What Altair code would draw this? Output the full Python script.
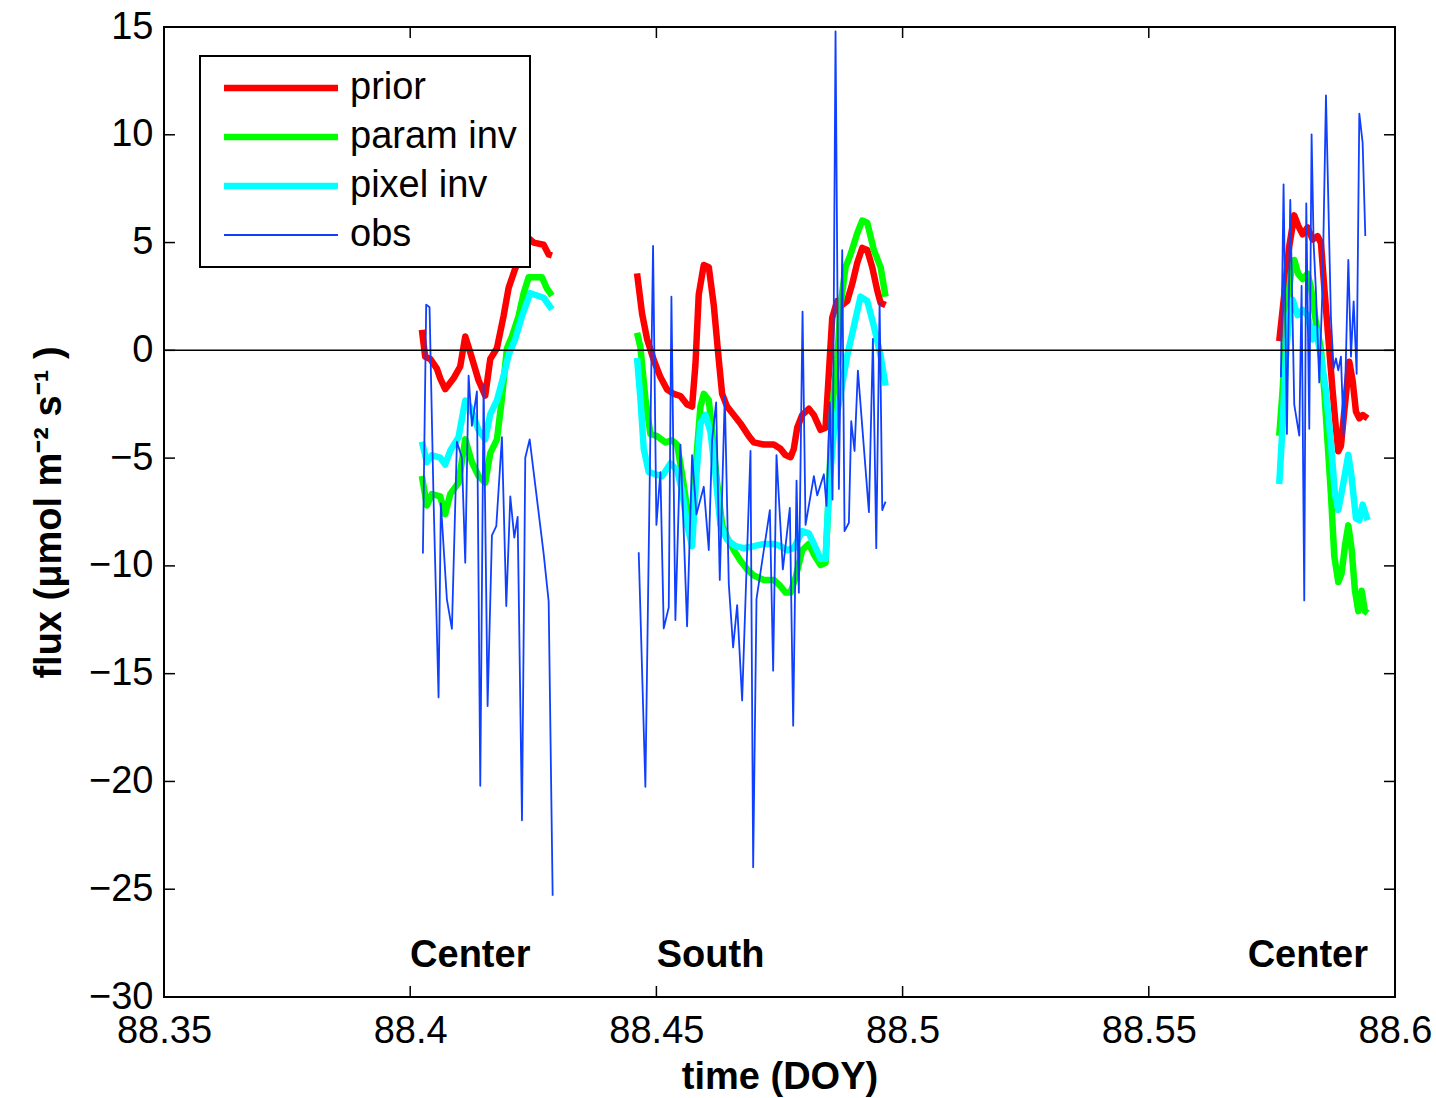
import altair as alt
import pandas as pd

SERIES = ["prior", "param inv", "pixel inv", "obs"]
COLORS = ["#ff0000", "#00ff00", "#00ffff", "#1040ff"]
WIDTHS = [6.5, 6.5, 6.5, 1.8]

X_TICKS = [88.35, 88.40, 88.45, 88.50, 88.55, 88.60]
Y_TICKS = [-30, -25, -20, -15, -10, -5, 0, 5, 10, 15]

REGION_NAMES = ["Center", "South", "Center"]
REGION_T = [88.4122, 88.4610, 88.5823]
REGION_V = [-28.1, -28.1, -28.1]

# ---------------- prior ----------------
prior_t = [
    88.40237, 88.40305, 88.40407, 88.40542, 88.40610, 88.40711, 88.40881, 88.41016,
    88.41118, 88.41220, 88.41389, 88.41524, 88.41626, 88.41762, 88.41897, 88.41999,
    88.42134, 88.42405, 88.42507, 88.42710, 88.42812, 88.42879,
    88.44607, 88.44709, 88.44810, 88.44946, 88.45081, 88.45217, 88.45352, 88.45488,
    88.45623, 88.45725, 88.45793, 88.45860, 88.45962, 88.46064, 88.46165, 88.46267,
    88.46335, 88.46436, 88.46572, 88.46707, 88.46877, 88.46978, 88.47182, 88.47385,
    88.47520, 88.47622, 88.47724, 88.47791, 88.47859, 88.47961, 88.48096, 88.48198,
    88.48333, 88.48435, 88.48503, 88.48571, 88.48672, 88.48774, 88.48875, 88.48977,
    88.49079, 88.49180, 88.49282, 88.49383, 88.49485, 88.49553, 88.49654,
    88.57649, 88.57751, 88.57852, 88.57954, 88.58035, 88.58123, 88.58225, 88.58327,
    88.58428, 88.58496, 88.58564, 88.58665, 88.58733, 88.58801, 88.58848, 88.58902,
    88.58970, 88.59072, 88.59140, 88.59207, 88.59275, 88.59343, 88.59444,
]
prior_v = [
    0.95, -0.3, -0.4, -0.85, -1.3, -1.8, -1.3, -0.75, 0.64, -0.1, -1.4, -2.1,
    -0.4, 0.1, 1.6, 2.9, 3.8, 5.2, 5.0, 4.9, 4.45, 4.4,
    3.57, 1.7, 0.53, -0.45, -1.24, -1.82, -2.02, -2.12, -2.51, -2.61, -0.65, 2.59,
    3.96, 3.86, 2.1, -0.45, -2.02, -2.61, -3.0, -3.39, -3.98, -4.27, -4.37, -4.37,
    -4.57, -4.86, -4.96, -4.57, -3.59, -3.0, -2.71, -3.0, -3.69, -3.59, -1.04, 1.51,
    2.29, 2.1, 2.29, 3.08, 4.06, 4.75, 4.65, 3.86, 2.78, 2.2, 2.1,
    0.43, 2.59, 4.82, 6.26, 5.78, 5.38, 5.7, 5.14, 5.3, 4.98, 2.91, 0.03, -1.88,
    -3.64, -4.68, -4.44, -2.84, -0.53, -1.41, -2.84, -3.16, -3.0, -3.16,
]

# ---------------- param inv ----------------
param_t = [
    88.40237, 88.40339, 88.40440, 88.40610, 88.40711, 88.40813, 88.40982, 88.41118,
    88.41253, 88.41389, 88.41524, 88.41626, 88.41762, 88.41863, 88.41965, 88.42066,
    88.42202, 88.42304, 88.42405, 88.42676, 88.42778, 88.42879,
    88.44607, 88.44675, 88.44776, 88.44878, 88.45014, 88.45183, 88.45318, 88.45420,
    88.45522, 88.45623, 88.45725, 88.45813, 88.45894, 88.45962, 88.46064, 88.46131,
    88.46233, 88.46335, 88.46436, 88.46572, 88.46707, 88.46843, 88.46978, 88.47182,
    88.47385, 88.47520, 88.47622, 88.47724, 88.47825, 88.47961, 88.48096, 88.48198,
    88.48333, 88.48435, 88.48503, 88.48571, 88.48672, 88.48740, 88.48842, 88.48943,
    88.49079, 88.49180, 88.49282, 88.49417, 88.49553, 88.49654,
    88.57649, 88.57717, 88.57818, 88.57886, 88.57954, 88.58035, 88.58123, 88.58225,
    88.58293, 88.58394, 88.58496, 88.58564, 88.58631, 88.58699, 88.58767, 88.58848,
    88.58916, 88.58984, 88.59052, 88.59119, 88.59187, 88.59255, 88.59323, 88.59390,
    88.59444,
]
param_v = [
    -5.83, -7.2, -6.67, -6.78, -7.6, -6.67, -6.14, -4.13, -5.19, -5.83, -6.14, -4.77,
    -4.13, -2.22, 0.1, 0.64, 1.59, 2.65, 3.39, 3.39, 2.86, 2.54,
    0.82, 0.14, -2.22, -3.88, -3.98, -4.27, -4.18, -4.37, -5.75, -7.31, -8.49, -4.96,
    -2.61, -2.02, -2.31, -3.78, -6.14, -8.1, -8.69, -9.27, -9.76, -10.16, -10.45,
    -10.65, -10.65, -10.94, -11.24, -11.24, -10.55, -9.27, -8.98, -9.47, -9.96, -9.86,
    -6.53, -2.61, -0.45, 2.1, 3.86, 4.45, 5.43, 6.02, 5.92, 4.65, 3.86, 2.49,
    -3.96, -1.88, 2.11, 3.55, 4.19, 3.55, 3.31, 3.55, 2.91, 1.31, 0.03, -1.88, -4.28,
    -6.68, -9.55, -10.75, -10.35, -9.07, -8.12, -9.23, -11.15, -12.1, -11.15, -12.1,
    -12.19,
]

# ---------------- pixel inv ----------------
pixel_t = [
    88.40237, 88.40339, 88.40440, 88.40610, 88.40711, 88.40813, 88.40982, 88.41118,
    88.41220, 88.41389, 88.41524, 88.41626, 88.41762, 88.41897, 88.41999, 88.42134,
    88.42270, 88.42439, 88.42710, 88.42879,
    88.44607, 88.44675, 88.44743, 88.44844, 88.44980, 88.45115, 88.45285, 88.45420,
    88.45522, 88.45623, 88.45725, 88.45813, 88.45894, 88.45996, 88.46098, 88.46199,
    88.46301, 88.46436, 88.46606, 88.46775, 88.46978, 88.47182, 88.47385, 88.47520,
    88.47656, 88.47791, 88.47961, 88.48096, 88.48198, 88.48333, 88.48435, 88.48503,
    88.48604, 88.48740, 88.48875, 88.49011, 88.49146, 88.49282, 88.49417, 88.49553,
    88.49654,
    88.57649, 88.57717, 88.57785, 88.57852, 88.57920, 88.58022, 88.58123, 88.58225,
    88.58327, 88.58394, 88.58496, 88.58598, 88.58699, 88.58781, 88.58848, 88.58936,
    88.59052, 88.59119, 88.59207, 88.59275, 88.59343, 88.59444,
]
pixel_v = [
    -4.24, -5.19, -4.87, -4.98, -5.3, -4.66, -4.03, -2.33, -2.65, -3.7, -4.13, -2.96,
    -2.33, -1.17, -0.21, 0.53, 1.59, 2.65, 2.44, 1.9,
    -0.35, -2.22, -4.57, -5.65, -5.75, -5.84, -5.25, -5.55, -6.53, -8.1, -9.08, -5.75,
    -3.39, -3.0, -3.78, -5.75, -8.1, -8.78, -9.08, -9.18, -9.08, -8.98, -8.98, -9.08,
    -9.27, -9.18, -8.39, -8.49, -8.98, -9.67, -9.67, -6.53, -3.78, -2.02, -0.25, 1.12,
    2.49, 2.29, 1.12, -0.25, -1.63,
    -6.2, -3.48, -0.29, 1.63, 2.35, 1.63, 1.87, 1.63, 0.51, 0.99, -0.29, -1.88, -4.28,
    -6.68, -7.4, -6.36, -4.84, -5.88, -7.8, -7.88, -7.16, -7.88,
]

# ---------------- obs ----------------
obs_t = [
    88.40258, 88.40325, 88.40393, 88.40474, 88.40576, 88.40623, 88.40745, 88.40847,
    88.40949, 88.41050, 88.41118, 88.41186, 88.41253, 88.41355, 88.41423, 88.41491,
    88.41572, 88.41660, 88.41748, 88.41863, 88.41951, 88.42033, 88.42114, 88.42182,
    88.42270, 88.42337, 88.42426, 88.42710, 88.42812, 88.42893,
    88.44641, 88.44776, 88.44932, 88.45000, 88.45081, 88.45149, 88.45251, 88.45305,
    88.45386, 88.45488, 88.45556, 88.45623, 88.45725, 88.45813, 88.45962, 88.46064,
    88.46131, 88.46213, 88.46287, 88.46389, 88.46470, 88.46558, 88.46640, 88.46741,
    88.46911, 88.46965, 88.47033, 88.47304, 88.47371, 88.47439, 88.47568, 88.47710,
    88.47778, 88.47846, 88.47893, 88.47968, 88.48029, 88.48198, 88.48266, 88.48401,
    88.48455, 88.48523, 88.48577, 88.48638, 88.48706, 88.48774, 88.48821, 88.48909,
    88.48957, 88.49024, 88.49092, 88.49316, 88.49397, 88.49465, 88.49533, 88.49587,
    88.49654,
    88.57683, 88.57737, 88.57805, 88.57873, 88.57954, 88.58056, 88.58103, 88.58157,
    88.58198, 88.58259, 88.58306, 88.58347, 88.58394, 88.58462, 88.58530, 88.58598,
    88.58699, 88.58753, 88.58801, 88.58848, 88.58902, 88.58957, 88.59004, 88.59052,
    88.59106, 88.59160, 88.59221, 88.59275, 88.59343, 88.59397,
]
obs_v = [
    -9.43, 2.12, 2.0, -6.89, -16.1, -7.1, -11.55, -12.92, -4.24, -4.98, -9.85, -1.17,
    -3.5, -1.91, -20.2, -1.59, -16.5, -8.58, -8.16, -4.03, -11.86, -6.78, -8.69, -7.73,
    -21.8, -4.98, -4.13, -9.43, -11.65, -25.3,
    -9.37, -20.25, 4.84, -8.1, -5.65, -12.9, -11.92, 2.49, -12.51, -4.37, -8.49, -12.8,
    -4.86, -7.61, -6.33, -9.27, -4.18, -2.41, -10.65, -2.12, -10.84, -13.78, -11.82,
    -16.24, -4.67, -23.98, -11.53, -7.41, -14.86, -4.86, -10.16, -7.31, -17.41, -6.04,
    -11.24, 1.8, -8.1, -5.84, -6.73, -5.75, -7.22, -2.41, -6.92, 14.8, -6.43, 4.65,
    -8.39, -8.0, -3.29, -4.67, -0.94, -7.51, 0.53, -9.18, 2.2, -7.41, -7.02,
    -1.25, 7.7, -3.88, 6.98, -2.52, -3.96, 2.99, -11.6, 6.82, -3.64, 10.02, 4.98, 2.75,
    -1.49, 3.07, 11.83, 1.47, -0.85, -0.37, -0.93, -0.29, -3.96, -0.29, 4.19, -0.29,
    2.27, -1.09, 10.98, 9.62, 5.3,
]

SERIES_DATA = {
    "prior": (prior_t, prior_v),
    "param inv": (param_t, param_v),
    "pixel inv": (pixel_t, pixel_v),
    "obs": (obs_t, obs_v),
}


def segment(t):
    if t < 88.44:
        return 1
    if t < 88.55:
        return 2
    return 3


FONT = "Liberation Sans"
FS = 38
W, H = 1231, 970
TICK = 11

x_enc = alt.X(
    "t:Q",
    scale=alt.Scale(domain=[88.35, 88.6], nice=False, zero=False),
    axis=alt.Axis(values=X_TICKS, format=".2~f", title="time (DOY)"),
)
y_enc = alt.Y(
    "v:Q",
    scale=alt.Scale(domain=[-30, 15], nice=False, zero=False),
    axis=alt.Axis(values=Y_TICKS, format="d", title="flux (μmol m⁻² s⁻¹ )"),
)

legend = alt.Legend(
    title=None,
    orient="none",
    legendX=36,
    legendY=29,
    symbolType="M-6,0L6,0",
    symbolSize=361,
    symbolOffset=49,
    labelOffset=50,
    labelFont=FONT,
    labelFontSize=FS,
    labelColor="black",
    labelLimit=400,
    padding=13,
    rowPadding=11,
    strokeColor="black",
    fillColor="white",
)

color_enc = alt.Color("series:N", scale=alt.Scale(domain=SERIES, range=COLORS), legend=legend)
width_enc = alt.StrokeWidth(
    "series:N", scale=alt.Scale(type="ordinal", domain=SERIES, range=WIDTHS), legend=legend
)

line_layers = []
for name in SERIES:
    ts, vs = SERIES_DATA[name]
    d = pd.DataFrame({"t": ts, "v": vs})
    d["series"] = name
    d["seg"] = [segment(t) for t in ts]
    line_layers.append(
        alt.Chart(d)
        .mark_line(strokeJoin="round")
        .encode(x=x_enc, y=y_enc, color=color_enc, strokeWidth=width_enc, detail="seg:N")
    )

zero_line = (
    alt.Chart(pd.DataFrame({"v": [0]}))
    .mark_rule(color="black", strokeWidth=1.5)
    .encode(y="v:Q")
)

region_df = pd.DataFrame({"t": REGION_T, "v": REGION_V, "name": REGION_NAMES})
region_text = (
    alt.Chart(region_df)
    .mark_text(font=FONT, fontSize=FS, fontWeight="bold", color="black",
               align="center", baseline="middle")
    .encode(x="t:Q", y="v:Q", text="name:N")
)

xt_df = pd.DataFrame({"t": X_TICKS})
yt_df = pd.DataFrame({"v": Y_TICKS})
tick_style = dict(color="black", strokeWidth=1.5)
ticks = [
    alt.Chart(yt_df).mark_rule(**tick_style).encode(y="v:Q", x=alt.value(0), x2=alt.value(TICK)),
    alt.Chart(yt_df).mark_rule(**tick_style).encode(y="v:Q", x=alt.value(W - TICK), x2=alt.value(W)),
    alt.Chart(xt_df).mark_rule(**tick_style).encode(x="t:Q", y=alt.value(0), y2=alt.value(TICK)),
    alt.Chart(xt_df).mark_rule(**tick_style).encode(x="t:Q", y=alt.value(H - TICK), y2=alt.value(H)),
]

chart = (
    alt.layer(*line_layers, zero_line, region_text, *ticks)
    .properties(
        width=W,
        height=H,
        autosize=alt.AutoSizeParams(type="none"),
        padding={"left": 164, "top": 27, "right": 41, "bottom": 101},
    )
    .configure_view(stroke="black", strokeWidth=2)
    .configure_axis(
        labelFont=FONT, labelFontSize=FS, labelColor="black",
        titleFont=FONT, titleFontSize=FS, titleFontWeight="bold", titleColor="black",
        domain=False, ticks=False, tickSize=0, grid=False,
        labelFlush=False, labelOverlap=False, labelBound=False,
    )
    .configure_axisX(labelPadding=15, titlePadding=8)
    .configure_axisY(labelPadding=11, titlePadding=20)
)

try:
    trial = chart.configure_legend(strokeWidth=2)
    trial.to_dict()
    chart = trial
except Exception:
    pass

chart.save("out.html", embed_options={"renderer": "svg", "actions": False})
